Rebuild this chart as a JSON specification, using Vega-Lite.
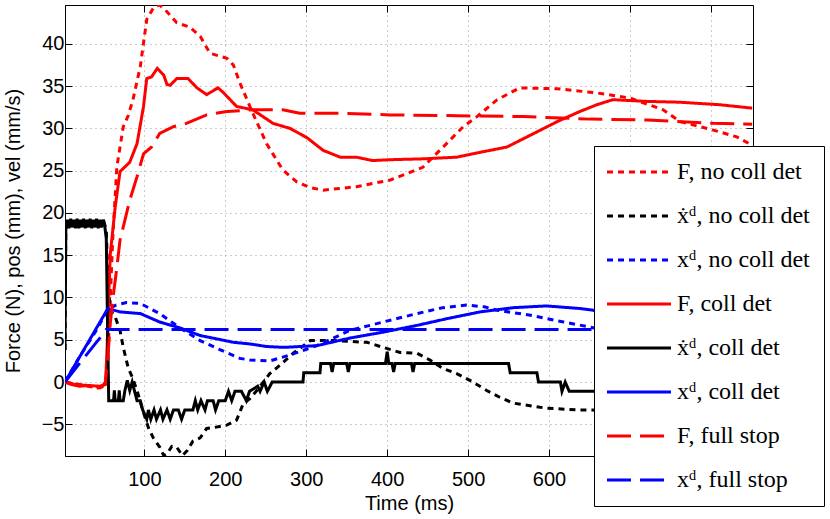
{
"$schema": "https://vega.github.io/schema/vega-lite/v6.json",
"width": 688, "height": 451,
"autosize": {"type": "none"},
"padding": {"left": 65, "top": 5, "right": 77, "bottom": 63},
"background": "white",
"config": {
  "view": {"stroke": "black", "strokeWidth": 1},
  "axis": {"labelFont": "Liberation Sans", "labelFontSize": 20, "labelColor": "black", "titleFont": "Liberation Sans", "titleFontSize": 20, "titleFontWeight": "normal", "titleColor": "black", "domainColor": "black", "tickColor": "black", "tickSize": -7, "gridColor": "#999999", "gridDash": [1, 4], "gridWidth": 1, "gridOpacity": 1}
},
"datasets": {"main": [
{"s":"F, no coll det","t":2,"v":0},{"s":"F, no coll det","t":15,"v":-0.2},{"s":"F, no coll det","t":30,"v":-0.5},{"s":"F, no coll det","t":45,"v":-0.7},{"s":"F, no coll det","t":52,"v":-0.4},{"s":"F, no coll det","t":55,"v":3},{"s":"F, no coll det","t":58,"v":10},{"s":"F, no coll det","t":61,"v":17},{"s":"F, no coll det","t":64,"v":22},{"s":"F, no coll det","t":66,"v":25.4},{"s":"F, no coll det","t":74,"v":30.2},{"s":"F, no coll det","t":80,"v":31.5},{"s":"F, no coll det","t":86,"v":33.4},{"s":"F, no coll det","t":95,"v":37.3},{"s":"F, no coll det","t":103,"v":42.9},{"s":"F, no coll det","t":112,"v":44.4},{"s":"F, no coll det","t":119,"v":44.6},{"s":"F, no coll det","t":128,"v":43.8},{"s":"F, no coll det","t":140,"v":42.5},{"s":"F, no coll det","t":156,"v":42},{"s":"F, no coll det","t":169,"v":40.9},{"s":"F, no coll det","t":181,"v":38.9},{"s":"F, no coll det","t":202,"v":38.3},{"s":"F, no coll det","t":210,"v":37.5},{"s":"F, no coll det","t":218,"v":35.4},{"s":"F, no coll det","t":234,"v":31.8},{"s":"F, no coll det","t":251,"v":28.2},{"s":"F, no coll det","t":271,"v":25.1},{"s":"F, no coll det","t":288,"v":23.7},{"s":"F, no coll det","t":305,"v":23},{"s":"F, no coll det","t":321,"v":22.7},{"s":"F, no coll det","t":362,"v":23.1},{"s":"F, no coll det","t":404,"v":23.9},{"s":"F, no coll det","t":444,"v":25.4},{"s":"F, no coll det","t":465,"v":27.4},{"s":"F, no coll det","t":494,"v":30.2},{"s":"F, no coll det","t":511,"v":31.4},{"s":"F, no coll det","t":536,"v":33.4},{"s":"F, no coll det","t":564,"v":34.8},{"s":"F, no coll det","t":610,"v":34.7},{"s":"F, no coll det","t":659,"v":34.2},{"s":"F, no coll det","t":700,"v":33.6},{"s":"F, no coll det","t":741,"v":32.2},{"s":"F, no coll det","t":762,"v":30.8},{"s":"F, no coll det","t":803,"v":29.8},{"s":"F, no coll det","t":832,"v":29},{"s":"F, no coll det","t":851,"v":28},

{"s":"ẋᵈ, no coll det","t":2,"v":3.8},{"s":"ẋᵈ, no coll det","t":3,"v":18.5},{"s":"ẋᵈ, no coll det","t":10,"v":19},{"s":"ẋᵈ, no coll det","t":20,"v":18.7},{"s":"ẋᵈ, no coll det","t":30,"v":19},{"s":"ẋᵈ, no coll det","t":40,"v":18.7},{"s":"ẋᵈ, no coll det","t":50,"v":19},{"s":"ẋᵈ, no coll det","t":53,"v":18},{"s":"ẋᵈ, no coll det","t":55,"v":12},{"s":"ẋᵈ, no coll det","t":58,"v":8.5},{"s":"ẋᵈ, no coll det","t":64,"v":7.7},{"s":"ẋᵈ, no coll det","t":70,"v":6.1},{"s":"ẋᵈ, no coll det","t":74,"v":4.1},{"s":"ẋᵈ, no coll det","t":80,"v":1.7},{"s":"ẋᵈ, no coll det","t":85,"v":0.6},{"s":"ẋᵈ, no coll det","t":91,"v":-1},{"s":"ẋᵈ, no coll det","t":97,"v":-3},{"s":"ẋᵈ, no coll det","t":105,"v":-5.4},{"s":"ẋᵈ, no coll det","t":111,"v":-6.6},{"s":"ẋᵈ, no coll det","t":119,"v":-7.7},{"s":"ẋᵈ, no coll det","t":124,"v":-8.7},{"s":"ẋᵈ, no coll det","t":128,"v":-8.5},{"s":"ẋᵈ, no coll det","t":134,"v":-7.6},{"s":"ẋᵈ, no coll det","t":140,"v":-7.7},{"s":"ẋᵈ, no coll det","t":147,"v":-8.7},{"s":"ẋᵈ, no coll det","t":153,"v":-8.1},{"s":"ẋᵈ, no coll det","t":160,"v":-7},{"s":"ẋᵈ, no coll det","t":169,"v":-6.6},{"s":"ẋᵈ, no coll det","t":177,"v":-5.5},{"s":"ẋᵈ, no coll det","t":185,"v":-5.4},{"s":"ẋᵈ, no coll det","t":202,"v":-5.1},{"s":"ẋᵈ, no coll det","t":214,"v":-4.5},{"s":"ẋᵈ, no coll det","t":222,"v":-2.6},{"s":"ẋᵈ, no coll det","t":230,"v":-2},{"s":"ẋᵈ, no coll det","t":239,"v":-1},{"s":"ẋᵈ, no coll det","t":255,"v":1},{"s":"ẋᵈ, no coll det","t":264,"v":1.7},{"s":"ẋᵈ, no coll det","t":284,"v":3.4},{"s":"ẋᵈ, no coll det","t":305,"v":4.9},{"s":"ẋᵈ, no coll det","t":333,"v":4.9},{"s":"ẋᵈ, no coll det","t":375,"v":4.7},{"s":"ẋᵈ, no coll det","t":395,"v":4.1},{"s":"ẋᵈ, no coll det","t":416,"v":3.5},{"s":"ẋᵈ, no coll det","t":437,"v":3.4},{"s":"ẋᵈ, no coll det","t":453,"v":2.6},{"s":"ẋᵈ, no coll det","t":469,"v":1.6},{"s":"ẋᵈ, no coll det","t":486,"v":1},{"s":"ẋᵈ, no coll det","t":506,"v":0},{"s":"ẋᵈ, no coll det","t":523,"v":-1},{"s":"ẋᵈ, no coll det","t":539,"v":-1.8},{"s":"ẋᵈ, no coll det","t":556,"v":-2.5},{"s":"ẋᵈ, no coll det","t":597,"v":-3.1},{"s":"ẋᵈ, no coll det","t":638,"v":-3.3},{"s":"ẋᵈ, no coll det","t":700,"v":-3.4},{"s":"ẋᵈ, no coll det","t":760,"v":-3},{"s":"ẋᵈ, no coll det","t":851,"v":-2.5},

{"s":"xᵈ, no coll det","t":2,"v":0},{"s":"xᵈ, no coll det","t":20,"v":3},{"s":"xᵈ, no coll det","t":40,"v":6},{"s":"xᵈ, no coll det","t":55,"v":8.6},{"s":"xᵈ, no coll det","t":65,"v":9.1},{"s":"xᵈ, no coll det","t":78,"v":9.4},{"s":"xᵈ, no coll det","t":95,"v":9.3},{"s":"xᵈ, no coll det","t":119,"v":8.1},{"s":"xᵈ, no coll det","t":144,"v":6.4},{"s":"xᵈ, no coll det","t":169,"v":4.9},{"s":"xᵈ, no coll det","t":194,"v":3.8},{"s":"xᵈ, no coll det","t":218,"v":2.8},{"s":"xᵈ, no coll det","t":231,"v":2.6},{"s":"xᵈ, no coll det","t":255,"v":2.5},{"s":"xᵈ, no coll det","t":280,"v":3.2},{"s":"xᵈ, no coll det","t":313,"v":4.3},{"s":"xᵈ, no coll det","t":354,"v":6.1},{"s":"xᵈ, no coll det","t":395,"v":7.1},{"s":"xᵈ, no coll det","t":437,"v":8.1},{"s":"xᵈ, no coll det","t":469,"v":8.8},{"s":"xᵈ, no coll det","t":498,"v":9.1},{"s":"xᵈ, no coll det","t":520,"v":8.9},{"s":"xᵈ, no coll det","t":536,"v":8.5},{"s":"xᵈ, no coll det","t":577,"v":7.9},{"s":"xᵈ, no coll det","t":618,"v":7.1},{"s":"xᵈ, no coll det","t":651,"v":6.5},{"s":"xᵈ, no coll det","t":700,"v":5.5},{"s":"xᵈ, no coll det","t":760,"v":4.8},{"s":"xᵈ, no coll det","t":851,"v":4.5},

{"s":"F, coll det","t":2,"v":0},{"s":"F, coll det","t":15,"v":-0.3},{"s":"F, coll det","t":30,"v":-0.4},{"s":"F, coll det","t":45,"v":-0.5},{"s":"F, coll det","t":52,"v":-0.3},{"s":"F, coll det","t":54,"v":4},{"s":"F, coll det","t":56,"v":10},{"s":"F, coll det","t":58,"v":15.2},{"s":"F, coll det","t":64,"v":20.7},{"s":"F, coll det","t":70,"v":24.9},{"s":"F, coll det","t":82,"v":26},{"s":"F, coll det","t":91,"v":28.2},{"s":"F, coll det","t":99,"v":32.6},{"s":"F, coll det","t":103,"v":35.9},{"s":"F, coll det","t":109,"v":36.1},{"s":"F, coll det","t":116,"v":37.1},{"s":"F, coll det","t":124,"v":36.3},{"s":"F, coll det","t":128,"v":35.2},{"s":"F, coll det","t":132,"v":35.1},{"s":"F, coll det","t":140,"v":35.9},{"s":"F, coll det","t":154,"v":35.9},{"s":"F, coll det","t":165,"v":34.8},{"s":"F, coll det","t":177,"v":34},{"s":"F, coll det","t":191,"v":34.8},{"s":"F, coll det","t":197,"v":34.3},{"s":"F, coll det","t":214,"v":32.6},{"s":"F, coll det","t":234,"v":32.2},{"s":"F, coll det","t":259,"v":30.6},{"s":"F, coll det","t":280,"v":30},{"s":"F, coll det","t":301,"v":28.9},{"s":"F, coll det","t":321,"v":27.4},{"s":"F, coll det","t":342,"v":26.6},{"s":"F, coll det","t":362,"v":26.6},{"s":"F, coll det","t":382,"v":26.2},{"s":"F, coll det","t":404,"v":26.3},{"s":"F, coll det","t":444,"v":26.4},{"s":"F, coll det","t":486,"v":26.6},{"s":"F, coll det","t":511,"v":27.1},{"s":"F, coll det","t":548,"v":27.8},{"s":"F, coll det","t":577,"v":29.2},{"s":"F, coll det","t":610,"v":30.8},{"s":"F, coll det","t":638,"v":32},{"s":"F, coll det","t":659,"v":32.8},{"s":"F, coll det","t":679,"v":33.4},{"s":"F, coll det","t":720,"v":33.2},{"s":"F, coll det","t":762,"v":33.1},{"s":"F, coll det","t":811,"v":32.8},{"s":"F, coll det","t":851,"v":32.4},

{"s":"ẋᵈ, coll det","t":2,"v":3.8},{"s":"ẋᵈ, coll det","t":3,"v":18},{"s":"ẋᵈ, coll det","t":5,"v":19.2},{"s":"ẋᵈ, coll det","t":7,"v":18.2},{"s":"ẋᵈ, coll det","t":9,"v":19.3},{"s":"ẋᵈ, coll det","t":11,"v":18.3},{"s":"ẋᵈ, coll det","t":13,"v":19.2},{"s":"ẋᵈ, coll det","t":15,"v":18.2},{"s":"ẋᵈ, coll det","t":17,"v":19.3},{"s":"ẋᵈ, coll det","t":19,"v":18.2},{"s":"ẋᵈ, coll det","t":21,"v":19.2},{"s":"ẋᵈ, coll det","t":23,"v":18.3},{"s":"ẋᵈ, coll det","t":25,"v":19.3},{"s":"ẋᵈ, coll det","t":27,"v":18.2},{"s":"ẋᵈ, coll det","t":29,"v":19.2},{"s":"ẋᵈ, coll det","t":31,"v":18.3},{"s":"ẋᵈ, coll det","t":33,"v":19.3},{"s":"ẋᵈ, coll det","t":35,"v":18.2},{"s":"ẋᵈ, coll det","t":37,"v":19.2},{"s":"ẋᵈ, coll det","t":39,"v":18.3},{"s":"ẋᵈ, coll det","t":41,"v":19.3},{"s":"ẋᵈ, coll det","t":43,"v":18.2},{"s":"ẋᵈ, coll det","t":45,"v":19.2},{"s":"ẋᵈ, coll det","t":47,"v":18.3},{"s":"ẋᵈ, coll det","t":49,"v":19.2},{"s":"ẋᵈ, coll det","t":51,"v":18.5},{"s":"ẋᵈ, coll det","t":53,"v":17},{"s":"ẋᵈ, coll det","t":55,"v":4},{"s":"ẋᵈ, coll det","t":56,"v":-2.2},{"s":"ẋᵈ, coll det","t":62,"v":-2.2},{"s":"ẋᵈ, coll det","t":63,"v":-1},{"s":"ẋᵈ, coll det","t":64,"v":-2.2},{"s":"ẋᵈ, coll det","t":68,"v":-2.2},{"s":"ẋᵈ, coll det","t":69,"v":-1},{"s":"ẋᵈ, coll det","t":70,"v":-2.2},{"s":"ẋᵈ, coll det","t":74,"v":-2.2},{"s":"ẋᵈ, coll det","t":76,"v":-1},{"s":"ẋᵈ, coll det","t":79,"v":0.2},{"s":"ẋᵈ, coll det","t":82,"v":-1},{"s":"ẋᵈ, coll det","t":85,"v":0},{"s":"ẋᵈ, coll det","t":88,"v":-1.1},{"s":"ẋᵈ, coll det","t":91,"v":-2.2},{"s":"ẋᵈ, coll det","t":95,"v":-2.2},{"s":"ẋᵈ, coll det","t":98,"v":-3.3},{"s":"ẋᵈ, coll det","t":103,"v":-4.4},{"s":"ẋᵈ, coll det","t":105,"v":-3.3},{"s":"ẋᵈ, coll det","t":108,"v":-4.4},{"s":"ẋᵈ, coll det","t":112,"v":-3.3},{"s":"ẋᵈ, coll det","t":115,"v":-4.4},{"s":"ẋᵈ, coll det","t":120,"v":-3.3},{"s":"ẋᵈ, coll det","t":123,"v":-4.4},{"s":"ẋᵈ, coll det","t":128,"v":-3.3},{"s":"ẋᵈ, coll det","t":132,"v":-4.4},{"s":"ẋᵈ, coll det","t":136,"v":-3.3},{"s":"ẋᵈ, coll det","t":142,"v":-3.3},{"s":"ẋᵈ, coll det","t":146,"v":-4.4},{"s":"ẋᵈ, coll det","t":150,"v":-3.3},{"s":"ẋᵈ, coll det","t":160,"v":-3.3},{"s":"ẋᵈ, coll det","t":163,"v":-2.2},{"s":"ẋᵈ, coll det","t":166,"v":-3.3},{"s":"ẋᵈ, coll det","t":170,"v":-2.2},{"s":"ẋᵈ, coll det","t":175,"v":-3.3},{"s":"ẋᵈ, coll det","t":178,"v":-2.2},{"s":"ẋᵈ, coll det","t":185,"v":-2.2},{"s":"ẋᵈ, coll det","t":188,"v":-3.3},{"s":"ẋᵈ, coll det","t":192,"v":-2.2},{"s":"ẋᵈ, coll det","t":200,"v":-2.2},{"s":"ẋᵈ, coll det","t":204,"v":-1.1},{"s":"ẋᵈ, coll det","t":208,"v":-2.2},{"s":"ẋᵈ, coll det","t":212,"v":-1.1},{"s":"ẋᵈ, coll det","t":220,"v":-1.1},{"s":"ẋᵈ, coll det","t":226,"v":-2.2},{"s":"ẋᵈ, coll det","t":230,"v":-1.1},{"s":"ẋᵈ, coll det","t":240,"v":-0.5},{"s":"ẋᵈ, coll det","t":243,"v":-1.1},{"s":"ẋᵈ, coll det","t":248,"v":0},{"s":"ẋᵈ, coll det","t":252,"v":-1.1},{"s":"ẋᵈ, coll det","t":258,"v":0},{"s":"ẋᵈ, coll det","t":296,"v":0},{"s":"ẋᵈ, coll det","t":297,"v":1.1},{"s":"ẋᵈ, coll det","t":317,"v":1.1},{"s":"ẋᵈ, coll det","t":318,"v":2.2},{"s":"ẋᵈ, coll det","t":330,"v":2.2},{"s":"ẋᵈ, coll det","t":332,"v":1.2},{"s":"ẋᵈ, coll det","t":334,"v":2.2},{"s":"ẋᵈ, coll det","t":350,"v":2.2},{"s":"ẋᵈ, coll det","t":352,"v":1.2},{"s":"ẋᵈ, coll det","t":354,"v":2.2},{"s":"ẋᵈ, coll det","t":398,"v":2.2},{"s":"ẋᵈ, coll det","t":400,"v":3.6},{"s":"ẋᵈ, coll det","t":402,"v":2.2},{"s":"ẋᵈ, coll det","t":406,"v":2.2},{"s":"ẋᵈ, coll det","t":408,"v":1.2},{"s":"ẋᵈ, coll det","t":410,"v":2.2},{"s":"ẋᵈ, coll det","t":430,"v":2.2},{"s":"ẋᵈ, coll det","t":432,"v":1.2},{"s":"ẋᵈ, coll det","t":434,"v":2.2},{"s":"ẋᵈ, coll det","t":550,"v":2.2},{"s":"ẋᵈ, coll det","t":552,"v":1.1},{"s":"ẋᵈ, coll det","t":585,"v":1.1},{"s":"ẋᵈ, coll det","t":587,"v":0},{"s":"ẋᵈ, coll det","t":614,"v":0},{"s":"ẋᵈ, coll det","t":616,"v":-1.1},{"s":"ẋᵈ, coll det","t":620,"v":0},{"s":"ẋᵈ, coll det","t":625,"v":-1.1},{"s":"ẋᵈ, coll det","t":700,"v":-1.1},{"s":"ẋᵈ, coll det","t":760,"v":-1.1},{"s":"ẋᵈ, coll det","t":851,"v":-1.1},

{"s":"xᵈ, coll det","t":2,"v":0},{"s":"xᵈ, coll det","t":55,"v":8.7},{"s":"xᵈ, coll det","t":58,"v":8.6},{"s":"xᵈ, coll det","t":70,"v":8.3},{"s":"xᵈ, coll det","t":95,"v":8.1},{"s":"xᵈ, coll det","t":119,"v":7.1},{"s":"xᵈ, coll det","t":144,"v":6.4},{"s":"xᵈ, coll det","t":169,"v":5.5},{"s":"xᵈ, coll det","t":210,"v":4.7},{"s":"xᵈ, coll det","t":231,"v":4.5},{"s":"xᵈ, coll det","t":251,"v":4.2},{"s":"xᵈ, coll det","t":272,"v":4.1},{"s":"xᵈ, coll det","t":313,"v":4.3},{"s":"xᵈ, coll det","t":354,"v":5.2},{"s":"xᵈ, coll det","t":395,"v":5.9},{"s":"xᵈ, coll det","t":437,"v":6.7},{"s":"xᵈ, coll det","t":474,"v":7.5},{"s":"xᵈ, coll det","t":515,"v":8.3},{"s":"xᵈ, coll det","t":556,"v":8.8},{"s":"xᵈ, coll det","t":597,"v":9},{"s":"xᵈ, coll det","t":638,"v":8.7},{"s":"xᵈ, coll det","t":654,"v":8.5},{"s":"xᵈ, coll det","t":700,"v":7.8},{"s":"xᵈ, coll det","t":760,"v":7},{"s":"xᵈ, coll det","t":851,"v":6.3},

{"s":"F, full stop","t":2,"v":0},{"s":"F, full stop","t":10,"v":-0.3},{"s":"F, full stop","t":20,"v":-0.5},{"s":"F, full stop","t":30,"v":-0.4},{"s":"F, full stop","t":40,"v":-0.8},{"s":"F, full stop","t":48,"v":-0.5},{"s":"F, full stop","t":52,"v":0},{"s":"F, full stop","t":55,"v":3},{"s":"F, full stop","t":58,"v":7},{"s":"F, full stop","t":62,"v":10.5},{"s":"F, full stop","t":66,"v":13.5},{"s":"F, full stop","t":70,"v":16.8},{"s":"F, full stop","t":82,"v":21.5},{"s":"F, full stop","t":91,"v":24.3},{"s":"F, full stop","t":99,"v":27},{"s":"F, full stop","t":109,"v":27.8},{"s":"F, full stop","t":119,"v":29.4},{"s":"F, full stop","t":136,"v":30.2},{"s":"F, full stop","t":152,"v":30.6},{"s":"F, full stop","t":177,"v":31.6},{"s":"F, full stop","t":202,"v":32},{"s":"F, full stop","t":234,"v":32.2},{"s":"F, full stop","t":271,"v":32.2},{"s":"F, full stop","t":292,"v":31.8},{"s":"F, full stop","t":340,"v":31.8},{"s":"F, full stop","t":404,"v":31.6},{"s":"F, full stop","t":486,"v":31.5},{"s":"F, full stop","t":568,"v":31.4},{"s":"F, full stop","t":651,"v":31.1},{"s":"F, full stop","t":721,"v":31},{"s":"F, full stop","t":803,"v":30.6},{"s":"F, full stop","t":851,"v":30.5},

{"s":"xᵈ, full stop","t":2,"v":0},{"s":"xᵈ, full stop","t":20,"v":2.2},{"s":"xᵈ, full stop","t":40,"v":4.6},{"s":"xᵈ, full stop","t":50,"v":5.8},{"s":"xᵈ, full stop","t":53,"v":6.2},{"s":"xᵈ, full stop","t":300,"v":6.2},{"s":"xᵈ, full stop","t":600,"v":6.2},{"s":"xᵈ, full stop","t":851,"v":6.2}
]},
"layer": [
  {
    "data": {"name": "main"},
    "mark": {"type": "line", "strokeWidth": 3, "clip": true},
    "encoding": {
      "x": {"field": "t", "type": "quantitative", "scale": {"domain": [2, 852], "nice": false, "zero": false},
            "axis": {"values": [100, 200, 300, 400, 500, 600, 700, 800], "title": "Time (ms)", "labelPadding": 20, "titlePadding": 4, "grid": true}},
      "y": {"field": "v", "type": "quantitative", "scale": {"domain": [-8.75, 44.6], "nice": false, "zero": false},
            "axis": {"values": [-5, 0, 5, 10, 15, 20, 25, 30, 35, 40], "title": "Force (N), pos (mm), vel (mm/s)", "labelPadding": 8, "titlePadding": 18, "grid": true, "labelExpr": "replace(datum.label, '-', '−')"}},
      "color": {"field": "s", "type": "nominal",
        "scale": {"domain": ["F, no coll det", "ẋᵈ, no coll det", "xᵈ, no coll det", "F, coll det", "ẋᵈ, coll det", "xᵈ, coll det", "F, full stop", "xᵈ, full stop"],
                  "range": ["#ff0000", "#000000", "#0000ff", "#ff0000", "#000000", "#0000ff", "#ff0000", "#0000ff"]},
        "legend": {"title": null, "orient": "none", "legendX": 529, "legendY": 141, "fillColor": "white", "strokeColor": "black", "padding": 14, "labelFont": "Liberation Serif", "labelFontSize": 24, "labelColor": "black", "symbolType": "M-1.625,0H6.375", "symbolSize": 256, "symbolStrokeWidth": 3, "labelOffset": 45, "rowPadding": 20, "labelLimit": 400}},
      "strokeDash": {"field": "s", "type": "nominal",
        "scale": {"domain": ["F, no coll det", "ẋᵈ, no coll det", "xᵈ, no coll det", "F, coll det", "ẋᵈ, coll det", "xᵈ, coll det", "F, full stop", "xᵈ, full stop"],
                  "range": [[6, 5], [6, 5], [6, 5], [1, 0], [1, 0], [1, 0], [24, 9], [24, 9]]},
        "legend": {"title": null, "orient": "none", "legendX": 529, "legendY": 141, "fillColor": "white", "strokeColor": "black", "padding": 14, "labelFont": "Liberation Serif", "labelFontSize": 24, "labelColor": "black", "symbolType": "M-1.625,0H6.375", "symbolSize": 256, "symbolStrokeWidth": 3, "labelOffset": 45, "rowPadding": 20, "labelLimit": 400}}
    }
  },
  {
    "data": {"name": "main"},
    "mark": {"type": "point", "opacity": 0},
    "encoding": {
      "x": {"field": "t", "type": "quantitative", "axis": {"orient": "top", "values": [100, 200, 300, 400, 500, 600, 700, 800], "labels": false, "title": null, "grid": false, "domain": false}},
      "y": {"field": "v", "type": "quantitative", "axis": {"orient": "right", "values": [-5, 0, 5, 10, 15, 20, 25, 30, 35, 40], "labels": false, "title": null, "grid": false, "domain": false}}
    }
  }
],
"resolve": {"axis": {"x": "independent", "y": "independent"}}
}
